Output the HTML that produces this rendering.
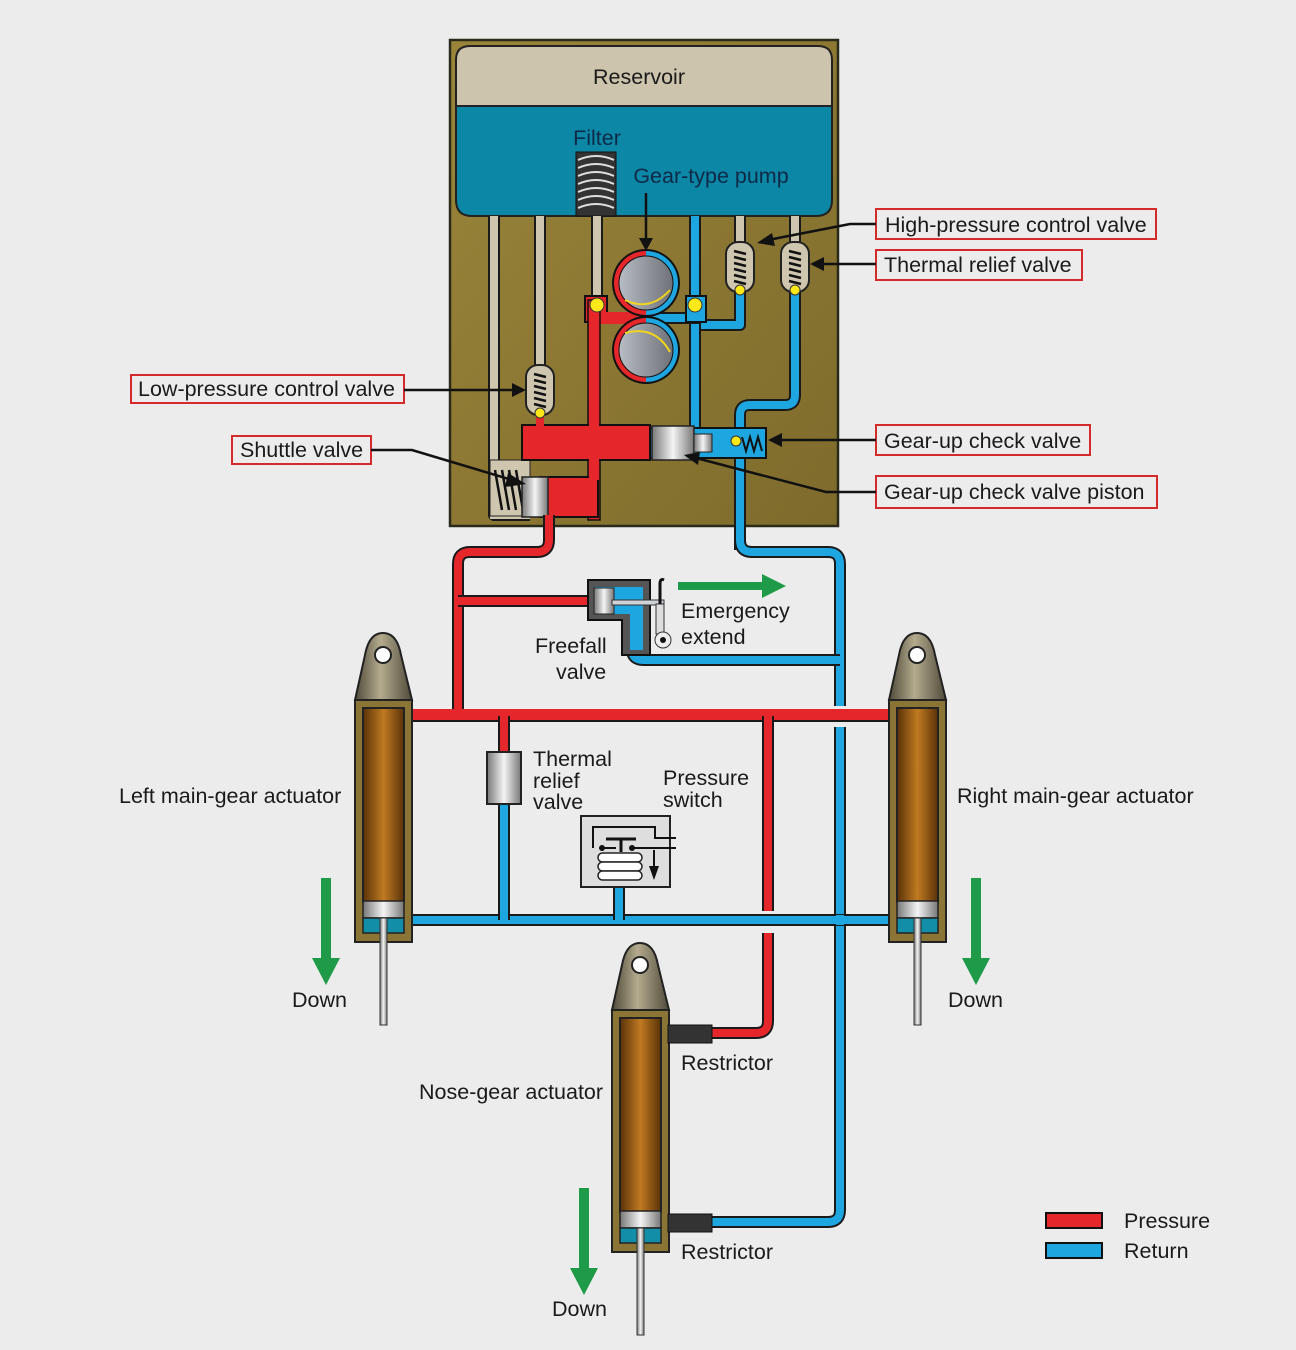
<!DOCTYPE html>
<html><head><style>
html,body{margin:0;padding:0;background:#ececec;}
svg{display:block;}
text{font-family:"Liberation Sans",Arial,sans-serif;font-size:21.5px;fill:#1a1a1a;}
.lb{fill:#ececec;stroke:#d42a2a;stroke-width:2;}
.ko{fill:none;stroke:#1a1a1a;stroke-width:12;stroke-linejoin:round;}
.r{fill:none;stroke:#e5262b;stroke-width:8;stroke-linejoin:round;}
.b{fill:none;stroke:#1ea6e0;stroke-width:8;stroke-linejoin:round;}
.g{fill:none;stroke:#cfc6b0;stroke-width:8;}
.ar{stroke:#111;stroke-width:2.5;fill:none;}
</style></head><body>
<svg width="1296" height="1350" viewBox="0 0 1296 1350" xmlns="http://www.w3.org/2000/svg">
<defs>
<linearGradient id="brn" x1="0" x2="1"><stop offset="0" stop-color="#5a3208"/><stop offset="0.5" stop-color="#c07a22"/><stop offset="1" stop-color="#5a3208"/></linearGradient>
<linearGradient id="cap" x1="0" x2="1"><stop offset="0" stop-color="#4f4a3a"/><stop offset="0.45" stop-color="#b4ab8e"/><stop offset="1" stop-color="#4f4a3a"/></linearGradient>
<linearGradient id="sil" x1="0" x2="1"><stop offset="0" stop-color="#777"/><stop offset="0.5" stop-color="#f4f4f4"/><stop offset="1" stop-color="#777"/></linearGradient>
<linearGradient id="gry" x1="0" x2="1"><stop offset="0" stop-color="#b8bcc4"/><stop offset="1" stop-color="#6e7178"/></linearGradient>
<linearGradient id="hous" x1="0" y1="0" x2="1" y2="1"><stop offset="0" stop-color="#9a853a"/><stop offset="1" stop-color="#7e6b2c"/></linearGradient>
<g id="act">
<path d="M0,67 L10,22 Q14,0 28,0 Q42,0 46,22 L57,67 Z" fill="url(#cap)" stroke="#222" stroke-width="2"/>
<circle cx="28" cy="22" r="8" fill="#fff" stroke="#222" stroke-width="2"/>
<rect x="0" y="67" width="57" height="242" fill="#8a7536" stroke="#222" stroke-width="2"/>
<rect x="8" y="75" width="41" height="194" fill="url(#brn)" stroke="#222" stroke-width="2"/>
<rect x="8" y="268" width="41" height="17" fill="url(#sil)" stroke="#222" stroke-width="1.5"/>
<rect x="8" y="285" width="41" height="15" fill="#138ea8" stroke="#222" stroke-width="1.5"/>
<rect x="25" y="285" width="7" height="107" fill="url(#sil)" stroke="#333" stroke-width="1"/>
</g>
<g id="vlv">
<rect x="-14" y="0" width="28" height="50" rx="12" fill="#cfc6b0" stroke="#222" stroke-width="2"/>
<path d="M-6,9 L6,12 M-6,15 L6,18 M-6,21 L6,24 M-6,27 L6,30 M-6,33 L6,36 M-6,39 L6,42" stroke="#111" stroke-width="2.5"/>
<circle cx="0" cy="48" r="5" fill="#ffe81a" stroke="#333" stroke-width="1"/>
</g>
<g id="dn"><path d="M-5,0 H5 V80 H14 L0,107 L-14,80 H-5 Z" fill="#1f9a48"/></g>
</defs>

<rect x="450" y="40" width="388" height="486" fill="url(#hous)" stroke="#2a2a1a" stroke-width="2.5"/>
<path d="M456,106 V60 Q456,46 470,46 H818 Q832,46 832,60 V106 Z" fill="#cdc4ad" stroke="#222" stroke-width="2"/>
<path d="M456,106 H832 V200 Q832,216 816,216 H472 Q456,216 456,200 Z" fill="#0d87a6" stroke="#222" stroke-width="2"/>
<text x="639" y="84" text-anchor="middle">Reservoir</text>
<text x="597" y="145" text-anchor="middle" style="fill:#0e2a48">Filter</text>
<rect x="576" y="152" width="40" height="64" fill="#333" stroke="#111"/>
<path d="M578,160 Q596,152 614,160 M578,168 Q596,160 614,168 M578,176 Q596,168 614,176 M578,184 Q596,176 614,184 M578,192 Q596,184 614,192 M578,200 Q596,192 614,200 M578,208 Q596,200 614,208" stroke="#ddd" stroke-width="2" fill="none"/>
<text x="711" y="183" text-anchor="middle" style="fill:#0e2a48">Gear-type pump</text>

<path d="M494,216 V515 H530" class="ko"/><path d="M494,216 V515 H530" class="g"/>
<path d="M540,216 V370" class="ko"/><path d="M540,216 V370" class="g"/>
<path d="M597,216 V300" class="ko"/><path d="M597,216 V300" class="g"/>
<path d="M740,216 V250" class="ko"/><path d="M740,216 V250" class="g"/>
<path d="M795,216 V250" class="ko"/><path d="M795,216 V250" class="g"/>
<rect x="490" y="460" width="40" height="56" fill="#cfc6b0" stroke="#222"/>
<path d="M495,470 L502,510 M502,470 L509,510 M509,470 L516,510 M516,470 L523,510" stroke="#111" stroke-width="2.5"/>

<path d="M695,216 V325 H740 V290" class="ko"/><path d="M695,216 V325 H740 V290" class="b"/>
<path d="M795,290 V395 Q795,405 785,405 H750 Q740,405 740,415 V550" class="ko"/>
<path d="M795,290 V395 Q795,405 785,405 H750 Q740,405 740,415 V550" class="b"/>
<path d="M695,300 V430" class="ko"/><path d="M695,300 V430" class="b"/>
<path d="M646,318 H700" class="ko"/><path d="M646,318 H700" class="b"/>
<rect x="686" y="296" width="20" height="26" fill="#1ea6e0" stroke="#111" stroke-width="2"/>
<rect x="650" y="428" width="116" height="30" fill="#1ea6e0" stroke="#111" stroke-width="2"/>
<rect x="652" y="426" width="42" height="34" fill="url(#sil)" stroke="#222" stroke-width="1.5"/>
<rect x="694" y="434" width="18" height="18" fill="url(#sil)" stroke="#222"/>
<path d="M742,437 L746,451 L750,437 L754,451 L758,437 L762,451" stroke="#111" stroke-width="2" fill="none"/>
<circle cx="736" cy="441" r="5" fill="#ffe81a" stroke="#333"/>

<rect x="585" y="296" width="22" height="26" fill="#e5262b" stroke="#111" stroke-width="2"/>
<rect x="588" y="312" width="58" height="12" fill="#e5262b"/>
<rect x="588" y="300" width="12" height="220" fill="#e5262b" stroke="#111" stroke-width="1.5"/>
<rect x="522" y="425" width="128" height="35" fill="#e5262b" stroke="#111" stroke-width="2"/>
<rect x="536" y="405" width="8" height="22" fill="#e5262b"/>
<rect x="540" y="477" width="58" height="40" fill="#e5262b" stroke="#111" stroke-width="2"/>
<rect x="522" y="477" width="26" height="40" fill="url(#sil)" stroke="#222" stroke-width="1.5"/>
<rect x="589" y="424" width="10" height="56" fill="#e5262b"/>
<circle cx="597" cy="305" r="7" fill="#ffe81a" stroke="#333"/>
<circle cx="695" cy="305" r="7" fill="#ffe81a" stroke="#333"/>

<circle cx="646" cy="283" r="34" fill="#111"/><circle cx="646" cy="350" r="34" fill="#111"/>
<path d="M646,251 A32,32 0 0,0 646,315 Z" fill="#e5262b"/><path d="M646,251 A32,32 0 0,1 646,315 Z" fill="#1ea6e0"/>
<path d="M646,318 A32,32 0 0,0 646,382 Z" fill="#e5262b"/><path d="M646,318 A32,32 0 0,1 646,382 Z" fill="#1ea6e0"/>
<circle cx="646" cy="283" r="27" fill="url(#gry)" stroke="#111"/>
<circle cx="646" cy="350" r="27" fill="url(#gry)" stroke="#111"/>
<path d="M625,300 Q650,312 670,290" stroke="#f3d51c" stroke-width="2" fill="none"/>
<path d="M625,333 Q655,325 670,352" stroke="#f3d51c" stroke-width="2" fill="none"/>
<line x1="646" y1="193" x2="646" y2="240" class="ar"/><path d="M639,238 L646,251 L653,238 Z" fill="#111"/>

<use href="#vlv" x="540" y="365"/>
<use href="#vlv" x="740" y="242"/>
<use href="#vlv" x="795" y="242"/>

<rect x="876" y="209" width="280" height="30" class="lb"/><text x="885" y="232">High-pressure control valve</text>
<rect x="876" y="250" width="206" height="30" class="lb"/><text x="884" y="272">Thermal relief valve</text>
<rect x="131" y="375" width="273" height="28" class="lb"/><text x="138" y="396">Low-pressure control valve</text>
<rect x="232" y="436" width="139" height="28" class="lb"/><text x="240" y="457">Shuttle valve</text>
<rect x="876" y="425" width="214" height="30" class="lb"/><text x="884" y="448">Gear-up check valve</text>
<rect x="876" y="476" width="281" height="32" class="lb"/><text x="884" y="499">Gear-up check valve piston</text>
<path d="M876,224 H850 L768,240" class="ar"/><path d="M772,233 L757,243 L775,246 Z" fill="#111"/>
<path d="M876,264 H822" class="ar"/><path d="M824,257 L810,264 L824,271 Z" fill="#111"/>
<path d="M404,390 H514" class="ar"/><path d="M512,383 L526,390 L512,397 Z" fill="#111"/>
<path d="M371,450 H412 L512,480" class="ar"/><path d="M508,473 L526,484 L505,487 Z" fill="#111"/>
<path d="M876,440 H780" class="ar"/><path d="M782,433 L768,440 L782,447 Z" fill="#111"/>
<path d="M876,492 H826 L696,458" class="ar"/><path d="M700,452 L684,455 L698,465 Z" fill="#111"/>

<path d="M549,515 V540 Q549,552 537,552 H470 Q458,552 458,564 V716" class="ko"/>
<path d="M549,515 V540 Q549,552 537,552 H470 Q458,552 458,564 V716" class="r"/>
<path d="M458,601 H600" class="ko"/><path d="M458,601 H600" class="r"/>
<path d="M740,540 Q740,552 752,552 H828 Q840,552 840,564 V706" class="ko"/>
<path d="M740,540 Q740,552 752,552 H828 Q840,552 840,564 V706" class="b"/>
<path d="M632,640 V650 Q632,660 644,660 H840" class="ko"/><path d="M632,640 V650 Q632,660 644,660 H840" class="b"/>
<path d="M840,727 V1210 Q840,1222 828,1222 H705" class="ko"/><path d="M840,727 V1210 Q840,1222 828,1222 H705" class="b"/>
<path d="M405,920 H895" class="ko"/><path d="M405,920 H895" class="b"/>
<path d="M504,790 V920" class="ko"/><path d="M504,790 V920" class="b"/>
<path d="M619,880 V920" class="ko"/><path d="M619,880 V920" class="b"/>
<path d="M405,716 H895" class="ko"/><path d="M405,716 H895" class="r"/>
<path d="M504,716 V760" class="ko"/><path d="M504,716 V760" class="r"/>
<path d="M768,716 V911" class="ko"/><path d="M768,716 V911" class="r"/>
<path d="M768,933 V1021 Q768,1033 756,1033 H705" class="ko"/><path d="M768,933 V1021 Q768,1033 756,1033 H705" class="r"/>
<path d="M405,712 H895" class="r" style="stroke-width:6"/>
<path d="M840,915 V925" class="b"/>

<rect x="487" y="752" width="34" height="52" fill="url(#sil)" stroke="#222" stroke-width="2"/>
<text x="533" y="766">Thermal</text><text x="533" y="788">relief</text><text x="533" y="809">valve</text>

<rect x="581" y="816" width="89" height="71" fill="#dedede" stroke="#222" stroke-width="2"/>
<path d="M593,848 V827 H655 V838 H676 M600,848 H616 M630,848 H676" stroke="#111" stroke-width="2" fill="none"/>
<path d="M606,839 H636 M621,839 V852" stroke="#111" stroke-width="3"/>
<circle cx="602" cy="848" r="3" fill="#111"/><circle cx="632" cy="848" r="3" fill="#111"/>
<rect x="598" y="853" width="44" height="9" rx="4.5" fill="#fff" stroke="#222" stroke-width="1.5"/>
<rect x="598" y="862" width="44" height="9" rx="4.5" fill="#fff" stroke="#222" stroke-width="1.5"/>
<rect x="598" y="871" width="44" height="9" rx="4.5" fill="#fff" stroke="#222" stroke-width="1.5"/>
<path d="M654,850 V872" stroke="#111" stroke-width="2"/><path d="M649,866 L654,880 L659,866 Z" fill="#111"/>
<text x="663" y="785">Pressure</text><text x="663" y="807">switch</text>

<path d="M588,580 H650 V655 H622 V620 H588 Z" fill="#555" stroke="#111" stroke-width="2"/>
<path d="M595,587 H643 V650 H630 V614 H595 Z" fill="#1ea6e0"/>
<rect x="594" y="588" width="20" height="26" fill="url(#sil)" stroke="#222"/>
<rect x="612" y="600" width="52" height="5" fill="#cfd3d8" stroke="#333" stroke-width="1"/>
<rect x="656" y="604" width="8" height="30" fill="#ddd" stroke="#333" stroke-width="1"/>
<path d="M660,604 V584 Q660,578 664,580" stroke="#111" stroke-width="3" fill="none"/>
<circle cx="663" cy="640" r="8" fill="#eee" stroke="#333"/><circle cx="663" cy="640" r="3" fill="#111"/>
<path d="M678,582 H762 V574 L786,586 L762,598 V590 H678 Z" fill="#1f9a48"/>
<text x="681" y="618">Emergency</text><text x="681" y="644">extend</text>
<text x="535" y="653">Freefall</text><text x="556" y="679">valve</text>

<use href="#act" x="355" y="633"/>
<use href="#act" x="889" y="633"/>
<use href="#act" x="612" y="943"/>
<rect x="668" y="1025" width="44" height="18" fill="#333" stroke="#111"/>
<rect x="668" y="1214" width="44" height="18" fill="#333" stroke="#111"/>
<text x="681" y="1070">Restrictor</text><text x="681" y="1259">Restrictor</text>

<use href="#dn" x="326" y="878"/>
<use href="#dn" x="976" y="878"/>
<use href="#dn" x="584" y="1188"/>
<text x="292" y="1007">Down</text><text x="948" y="1007">Down</text><text x="552" y="1316">Down</text>
<text x="119" y="803">Left main-gear actuator</text>
<text x="957" y="803">Right main-gear actuator</text>
<text x="419" y="1099">Nose-gear actuator</text>

<rect x="1046" y="1213" width="56" height="15" fill="#e5262b" stroke="#111" stroke-width="2"/>
<rect x="1046" y="1243" width="56" height="15" fill="#1ea6e0" stroke="#111" stroke-width="2"/>
<text x="1124" y="1228">Pressure</text><text x="1124" y="1258">Return</text>
</svg>
</body></html>
